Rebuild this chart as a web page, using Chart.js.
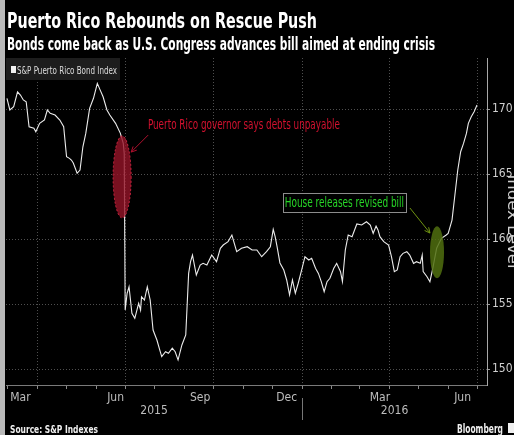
<!DOCTYPE html>
<html lang="en">
<head>
<meta charset="UTF-8">
<title>Puerto Rico Rebounds on Rescue Push</title>
<script src="https://cdn.jsdelivr.net/npm/chart.js"></script>
<style>
  html, body { margin: 0; padding: 0; background: #000; overflow: hidden; }
  .wrapper { width: 514px; height: 435px; }
</style>
</head>
<body>
<div class="wrapper"><canvas id="bondChart" width="514" height="435"></canvas></div>
<script>
// trading days counted from 1 Mar 2015
const days = [-1, 2, 6, 10, 13, 16, 19, 22, 27, 29, 33, 38, 41, 44, 49, 54, 58, 61, 64, 66, 68, 72, 75, 78, 81, 85, 89, 93, 96, 99,
  103, 106, 112, 117, 120, 121, 122, 124, 126, 129, 132, 136, 138, 139, 142, 145, 148, 151, 155, 158, 160, 164, 167, 171, 174, 177, 181, 185, 188, 190,
  192, 196, 200, 203, 207, 212, 217, 221, 224, 229, 233, 238, 243, 249, 254, 259, 264, 269, 273, 276, 278, 280, 283, 287, 290, 293, 296, 299, 302, 306,
  309, 313, 316, 320, 323, 326, 329, 332, 335, 339, 342, 346, 348, 351, 354, 358, 363, 368, 373, 377, 380, 383, 385, 387, 391, 396, 399, 402, 405, 408,
  411, 415, 418, 422, 425, 429, 431, 432, 436, 439, 442, 446, 451, 456, 458, 462, 465, 468, 471, 474, 477, 479, 482, 485, 488];
const bondIndex = [170.85, 169.95, 170.2, 171.35, 171.1, 170.72, 170.58, 168.66, 168.54, 168.28, 168.92, 169.18, 169.95, 169.69, 169.56, 169.18, 168.66, 166.35, 166.23, 166.1, 165.87, 165.08, 165.33, 167.12, 168.15, 170.08, 170.85, 172.0, 171.48, 170.97,
  169.95, 169.56, 168.92, 168.15, 167.38, 166.6, 154.56, 155.85, 156.35, 154.31, 153.92, 155.08, 154.56, 155.58, 155.33, 156.35, 155.33, 153.02, 152.25, 151.48, 150.97, 151.35, 151.23, 151.62, 151.35, 150.72, 151.87, 152.64, 157.38, 158.28,
  158.79, 157.25, 158.02, 158.15, 158.02, 158.79, 158.28, 159.31, 159.56, 159.82, 160.33, 159.05, 159.31, 159.43, 159.18, 159.18, 158.66, 159.05, 159.43, 160.77, 160.2, 159.43, 158.18, 157.64, 156.87, 155.72, 156.87, 155.85, 156.62, 157.77,
  158.66, 158.41, 158.54, 157.77, 157.38, 156.74, 155.97, 156.74, 157.0, 157.77, 158.15, 157.51, 156.74, 159.18, 160.33, 160.2, 161.18, 161.1, 161.35, 161.1, 160.46, 161.02, 160.72, 160.2, 159.82, 159.56, 158.66, 157.51, 157.64, 158.66,
  158.92, 159.05, 158.79, 158.15, 158.28, 158.15, 158.79, 157.51, 157.12, 156.74, 157.77, 159.31, 160.08, 160.33, 160.46, 161.48, 163.41, 165.33, 166.74, 167.38, 168.15, 168.92, 169.43, 169.82, 170.33];

const yTicks = [150, 155, 160, 165, 170];
const monthLabels = ['Mar', 'Jun', 'Sep', 'Dec', 'Mar', 'Jun'];
const monthLabelDays = [13, 112, 200, 290, 387, 473];
const monthStartDays = [0, 31, 61, 92, 122, 153, 184, 214, 245, 275, 306, 337, 366, 397, 427, 458, 488];
const quarterDays = [31, 122, 214, 306, 397, 488];
const years = ['2015', '2016'];
const yearStartDays = [-2, 306];

const narrow = '"Liberation Sans Narrow", "DejaVu Sans Condensed", "Roboto", sans-serif';

// draws text squeezed to a given width, the way the terminal font looks
function fitText(ctx, text, x, y, width, font, color) {
  ctx.save();
  ctx.font = font;
  ctx.fillStyle = color;
  ctx.textAlign = 'left';
  ctx.textBaseline = 'alphabetic';
  const w = ctx.measureText(text).width;
  ctx.translate(x, y);
  ctx.scale(width / w, 1);
  ctx.fillText(text, 0, 0);
  ctx.restore();
}

function arrow(ctx, x1, y1, x2, y2, color) {
  const a = Math.atan2(y2 - y1, x2 - x1);
  ctx.save();
  ctx.strokeStyle = color;
  ctx.lineWidth = 1;
  ctx.beginPath();
  ctx.moveTo(x1, y1);
  ctx.lineTo(x2, y2);
  ctx.moveTo(x2 - 6 * Math.cos(a - 0.45), y2 - 6 * Math.sin(a - 0.45));
  ctx.lineTo(x2, y2);
  ctx.lineTo(x2 - 6 * Math.cos(a + 0.45), y2 - 6 * Math.sin(a + 0.45));
  ctx.stroke();
  ctx.restore();
}

const backdrop = {
  id: 'backdrop',
  beforeDraw(chart) {
    const {ctx, width, height} = chart;
    ctx.save();
    ctx.fillStyle = '#000';
    ctx.fillRect(0, 0, width, height);
    ctx.fillStyle = '#b9b9b9';
    ctx.fillRect(0, 0, 5, height);
    ctx.restore();
  }
};

// event markers over the line
const notes = {
  id: 'notes',
  afterDatasetsDraw(chart) {
    const {ctx} = chart;
    const sx = chart.scales.x, sy = chart.scales.y;
    const px = d => sx.getPixelForValue(d), py = v => sy.getPixelForValue(v);
    const blob = (cx, cy, rx, ry, fill, edge) => {
      ctx.save();
      ctx.beginPath();
      ctx.ellipse(px(cx), py(cy), Math.abs(px(cx + rx) - px(cx)), Math.abs(py(cy + ry) - py(cy)), 0, 0, Math.PI * 2);
      ctx.fillStyle = fill;
      ctx.fill();
      if (edge) {
        ctx.setLineDash([2, 2]);
        ctx.strokeStyle = edge;
        ctx.stroke();
      }
      ctx.restore();
    };

    // governor says debts unpayable
    blob(118.8, 164.8, 9.4, 3.15, 'rgba(150, 20, 40, 0.8)', 'rgba(220, 40, 70, 0.9)');
    arrow(ctx, px(145.9), py(168.02), px(128.2), py(166.71), '#b0102e');
    fitText(ctx, 'Puerto Rico governor says debts unpayable', px(145.6), py(168.48), 192,
      '14px ' + narrow, '#d3112f');

    // revised bill
    blob(446.4, 159.0, 7.3, 2.0, 'rgba(80, 110, 15, 0.85)');
    arrow(ctx, px(418.2), py(162.41), px(439.1), py(160.48), '#6f9212');
    const bx = px(285.9), by = py(163.58), bw = px(414.2) - bx, bh = py(162.12) - by;
    ctx.save();
    ctx.fillStyle = '#000';
    ctx.fillRect(bx, by, bw, bh);
    ctx.strokeStyle = '#8c8c8c';
    ctx.lineWidth = 1;
    ctx.strokeRect(Math.round(bx) + 0.5, Math.round(by) + 0.5, Math.round(bw), Math.round(bh));
    ctx.restore();
    fitText(ctx, 'House releases revised bill', bx + 2, by + bh - 5, bw - 4, '14px ' + narrow, '#27d627');
  }
};

const frame = {
  id: 'frame',
  afterDraw(chart) {
    const {ctx, chartArea} = chart;
    const sx = chart.scales.x;

    // series key in the top left corner
    ctx.save();
    ctx.fillStyle = '#1d1d1d';
    ctx.fillRect(chartArea.left, chartArea.top, 114, 22);
    ctx.fillStyle = '#f2f2f2';
    ctx.fillRect(11, 66, 5, 7);
    ctx.restore();
    fitText(ctx, chart.data.datasets[0].label, 17, 74, 100, '11px ' + narrow, '#dcdcdc');

    // headline and deck
    fitText(ctx, 'Puerto Rico Rebounds on Rescue Push', 7, 28, 310, 'bold 21px ' + narrow, '#ffffff');
    fitText(ctx, 'Bonds come back as U.S. Congress advances bill aimed at ending crisis', 7, 50, 428,
      'bold 17px ' + narrow, '#ffffff');

    // year row under the month labels
    const ends = yearStartDays.slice(1).concat(sx.max);
    ctx.save();
    ctx.font = '12px ' + narrow;
    ctx.fillStyle = '#bdbdbd';
    ctx.textAlign = 'center';
    ctx.textBaseline = 'middle';
    years.forEach((yr, i) => {
      const a = Math.max(yearStartDays[i], sx.min);
      ctx.fillText(yr, sx.getPixelForValue((a + ends[i]) / 2), 411);
    });
    ctx.strokeStyle = '#777';
    ctx.lineWidth = 1;
    const sep = Math.round(sx.getPixelForValue(yearStartDays[1])) + 0.5;
    ctx.beginPath();
    ctx.moveTo(sep, 398);
    ctx.lineTo(sep, 420);
    ctx.stroke();
    ctx.restore();

    // axis name, reading downwards; the page edge clips its upper half
    const name = 'Index Level';
    ctx.save();
    ctx.translate(508, (chartArea.top + chartArea.bottom) / 2);
    ctx.rotate(Math.PI / 2);
    ctx.font = '16px ' + narrow;
    const nw = ctx.measureText(name).width;
    ctx.scale(94 / nw, 1);
    ctx.textAlign = 'center';
    ctx.textBaseline = 'alphabetic';
    ctx.fillStyle = '#d0d0d0';
    ctx.fillText(name, 0, 0);
    ctx.restore();

    // footer
    fitText(ctx, 'Source: S&P Indexes', 10, 433, 88, 'bold 11px ' + narrow, '#f0f0f0');
    fitText(ctx, 'Bloomberg', 457, 433, 46, 'bold 13px ' + narrow, '#f0f0f0');
    ctx.save();
    ctx.fillStyle = '#f0f0f0';
    ctx.fillRect(508, 423, 6, 10);
    ctx.restore();
  }
};

const ctx = document.getElementById('bondChart').getContext('2d');
new Chart(ctx, {
  type: 'line',
  data: {
    datasets: [{
      label: 'S&P Puerto Rico Bond Index',
      data: days.map((d, i) => ({x: d, y: bondIndex[i]})),
      borderColor: '#ececec',
      borderWidth: 1.1,
      pointRadius: 0,
      tension: 0
    }]
  },
  options: {
    responsive: false,
    animation: false,
    layout: { padding: { left: 6, top: 58, right: 0, bottom: 0 } },
    plugins: {
      legend: { display: false },
      tooltip: { enabled: false }
    },
    scales: {
      x: {
        type: 'linear',
        min: -2,
        max: 498.4,
        afterBuildTicks: s => {
          s.ticks = monthStartDays.concat(monthLabelDays).sort((a, b) => a - b).map(v => ({value: v}));
        },
        afterFit: s => { s.height = 50; },
        grid: {
          color: c => quarterDays.includes(c.tick && c.tick.value) ? '#4f4f4f' : 'rgba(0,0,0,0)',
          tickColor: c => monthStartDays.includes(c.tick && c.tick.value) ? '#8a8a8a' : 'rgba(0,0,0,0)',
          tickLength: 4
        },
        border: { color: '#7a7a7a', dash: [1, 2] },
        ticks: {
          autoSkip: false,
          maxRotation: 0,
          padding: 2,
          color: '#bdbdbd',
          font: { size: 12, family: narrow },
          callback: v => {
            const i = monthLabelDays.indexOf(v);
            return i >= 0 ? monthLabels[i] : '';
          }
        }
      },
      y: {
        position: 'right',
        min: 148.79,
        max: 173.95,
        afterBuildTicks: s => { s.ticks = yTicks.map(v => ({value: v})); },
        afterFit: s => { s.width = 27; },
        grid: { color: '#4f4f4f', tickColor: '#9a9a9a', tickLength: 3 },
        border: { color: '#a8a8a8', dash: [1, 2] },
        ticks: { color: '#d0d0d0', padding: 2, font: { size: 12, family: narrow } }
      }
    }
  },
  plugins: [backdrop, notes, frame]
});
</script>
</body>
</html>
